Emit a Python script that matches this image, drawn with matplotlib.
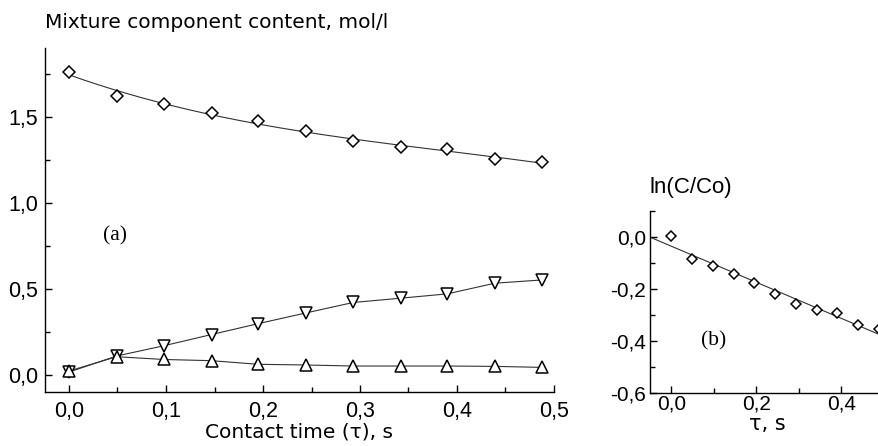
import numpy as np
import matplotlib
matplotlib.use("Agg")
import matplotlib.pyplot as plt
from matplotlib.ticker import MultipleLocator, FuncFormatter

# ---- data ----
tau = [0.0, 0.049, 0.098, 0.147, 0.195, 0.244, 0.293, 0.342, 0.390, 0.439, 0.488]
reactant = [1.762, 1.620, 1.571, 1.522, 1.474, 1.415, 1.360, 1.325, 1.310, 1.255, 1.236]
product = [0.017, 0.110, 0.170, 0.235, 0.298, 0.360, 0.421, 0.446, 0.471, 0.533, 0.552]
intermediate = [0.023, 0.106, 0.090, 0.083, 0.062, 0.058, 0.052, 0.052, 0.052, 0.050, 0.044]
ln_ratio = [0.004, -0.084, -0.113, -0.143, -0.178, -0.221, -0.258, -0.281, -0.294, -0.341, -0.355]

left_xticks = [0.0, 0.1, 0.2, 0.3, 0.4, 0.5]
left_yticks = [0.0, 0.5, 1.0, 1.5]
right_xticks = [0.0, 0.2, 0.4]
right_yticks = [0.0, -0.2, -0.4, -0.6]

W, H = 879, 446
fig = plt.figure(figsize=(W / 100, H / 100), dpi=100)

TICKFONT = "Liberation Sans"
LABFONT = "DejaVu Sans"
line_kw = dict(color="#333333", lw=0.8)
mk_kw = dict(mfc="white", mec="black", mew=1.1, ls="none")


def comma(v, pos=None):
    s = f"{v:.1f}"
    if s == "-0.0":
        s = "0.0"
    return s.replace(".", ",")


def style(ax, xmaj, xmin, ymaj, ymin, fs, xpad, ypad):
    for sp in ("top", "right"):
        ax.spines[sp].set_visible(False)
    for sp in ("left", "bottom"):
        ax.spines[sp].set_linewidth(1.0)
    ax.xaxis.set_major_locator(MultipleLocator(xmaj))
    ax.xaxis.set_minor_locator(MultipleLocator(xmin))
    ax.yaxis.set_major_locator(MultipleLocator(ymaj))
    ax.yaxis.set_minor_locator(MultipleLocator(ymin))
    ax.xaxis.set_major_formatter(FuncFormatter(comma))
    ax.yaxis.set_major_formatter(FuncFormatter(comma))
    ax.tick_params(which="both", direction="in", top=False, right=False, width=1.0)
    ax.tick_params(which="major", length=5)
    ax.tick_params(which="minor", length=3.5)
    ax.tick_params(axis="x", pad=xpad)
    ax.tick_params(axis="y", pad=ypad)
    for lab in ax.get_xticklabels() + ax.get_yticklabels():
        lab.set_fontfamily(TICKFONT)
        lab.set_fontsize(fs)


# ---- panel (a) ----
x0, x1 = 44.75, 554.0
y_top, y_bot = 47.8, 392.2
ax1 = fig.add_axes([x0 / W, 1 - y_bot / H, (x1 - x0) / W, (y_bot - y_top) / H])
ax1.set_xlim(-0.025, 0.5)
ax1.set_ylim(-0.1, 1.9)

coef = np.polyfit(tau, reactant, 3)
xf = np.linspace(tau[0], tau[-1], 200)
ax1.plot(xf, np.polyval(coef, xf), **line_kw)
ax1.plot(tau, product, **line_kw)
ax1.plot(tau, intermediate, **line_kw)
ax1.plot(tau, reactant, marker="D", ms=6.0, **mk_kw)
ax1.plot(tau, product, marker="v", ms=8.5, **mk_kw)
ax1.plot(tau, intermediate, marker="^", ms=8.5, **mk_kw)

ax1.set_xticks(left_xticks)
ax1.set_yticks(left_yticks)
style(ax1, 0.1, 0.05, 0.5, 0.25, 15.5, 6, 5)
ax1.set_xlabel("Contact time (τ), s", fontfamily=LABFONT, fontsize=14.5, labelpad=1)
ax1.text(0.047, 0.81, "(a)", fontfamily="Liberation Serif", fontsize=15.5,
         ha="center", va="center")
fig.text(45 / W, 1 - 22 / H, "Mixture component content, mol/l",
         fontfamily=LABFONT, fontsize=14.5, ha="left", va="center")

# ---- panel (b) ----
bx0 = 650.0
bx1 = bx0 + 0.55 * 425
by_top, by_bot = 210.7, 392.7
ax2 = fig.add_axes([bx0 / W, 1 - by_bot / H, (bx1 - bx0) / W, (by_bot - by_top) / H])
ax2.set_xlim(-0.05, 0.5)
ax2.set_ylim(-0.6, 0.1)

c1 = np.polyfit(tau, ln_ratio, 1)
xl = np.linspace(-0.05, 0.55, 50)
ax2.plot(xl, np.polyval(c1, xl), **line_kw)
ax2.plot(tau, ln_ratio, marker="D", ms=5.2, **mk_kw)
ax2.set_xticks(right_xticks)
ax2.set_yticks(right_yticks)
style(ax2, 0.2, 0.1, 0.2, 0.1, 15, 1, 3)
ax2.set_xlabel("τ, s", fontfamily=LABFONT, fontsize=15, labelpad=1)
ax2.text(0.1, -0.40, "(b)", fontfamily="Liberation Serif", fontsize=15.5,
         ha="center", va="center")
fig.text(650 / W, 1 - 187 / H, "ln(C/Co)", fontfamily=TICKFONT, fontsize=16,
         ha="left", va="center")

fig.savefig("out.png", dpi=100)
